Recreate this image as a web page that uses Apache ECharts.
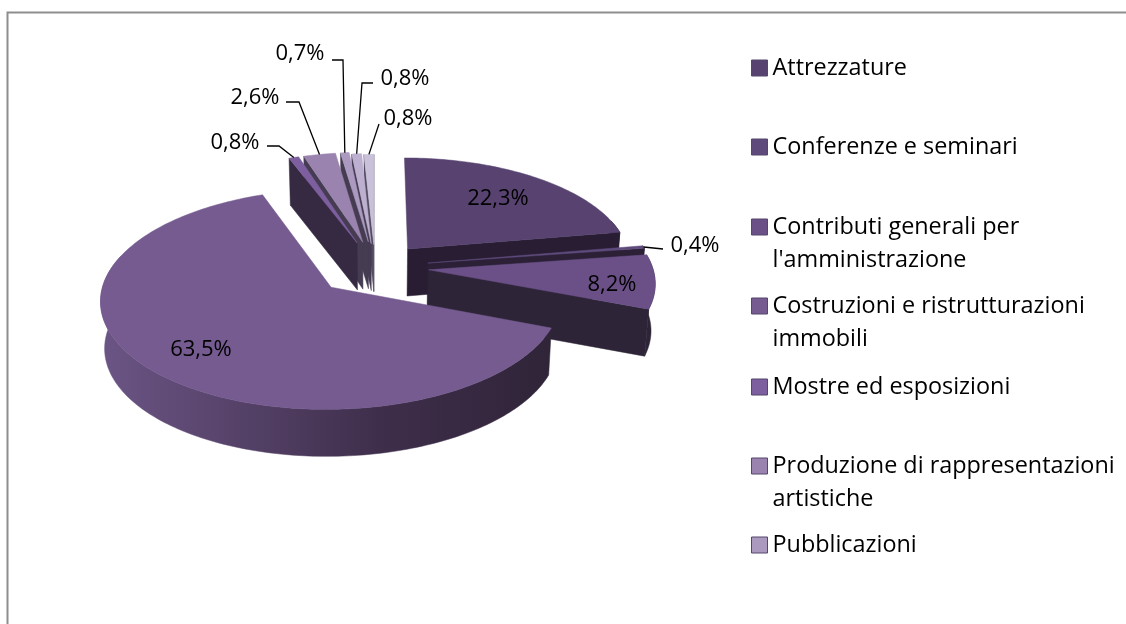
<!DOCTYPE html>
<html>
<head>
<meta charset="utf-8">
<title>Ripartizione spese</title>
<script src="https://cdn.jsdelivr.net/npm/echarts@6/dist/echarts.min.js"></script>
<style>
html, body { margin: 0; padding: 0; background: #fff; }
#main { width: 1126px; height: 624px; }
</style>
</head>
<body>
<div id="main"></div>
<script>
// only the first seven slices have a legend entry in the picture
var categories = [
    'Attrezzature',
    'Conferenze e seminari',
    'Contributi generali per\nl\'amministrazione',
    'Costruzioni e ristrutturazioni\nimmobili',
    'Mostre ed esposizioni',
    'Produzione di rappresentazioni\nartistiche',
    'Pubblicazioni'
];
var values = [22.3, 0.4, 8.2, 63.5, 0.8, 2.6, 0.7, 0.8, 0.8];

var topColors = ['#574270', '#5f4a7c', '#6b5088', '#755b90', '#7d5e9e', '#9a83ae', '#ab99c0', '#bcafcf', '#c9c0d9'];
var sideColors = ['#291d33', '#2b2036', '#2e2437', null, '#352a42', '#453c52', '#453c52', '#453c52', '#524a5e'];
var explode = [0.23, 0.24, 0.24, 0.27, 0.25, 0.25, 0.25, 0.23, 0.22];
var drawOrder = [8, 7, 6, 5, 4, 0, 1, 2, 3];

// label placement, in page pixels: inside labels only have a text point,
// outside ones also a leader elbow
var labelPos = [
    { x: 498, y: 199 },
    { x: 695, y: 246, elbow: [[663, 249]] },
    { x: 612, y: 285 },
    { x: 201, y: 350 },
    { x: 235, y: 143, elbow: [[267, 146], [279, 146]] },
    { x: 255, y: 98, elbow: [[286, 102], [299, 102]] },
    { x: 300, y: 54, elbow: [[332, 60], [343, 60]] },
    { x: 405, y: 79, elbow: [[373, 83], [362, 83]] },
    { x: 408, y: 119, elbow: [[379, 124]] }
];
var legendCenters = [67, 146, 226, 305, 386, 465, 544];

// projection of the pie plane
var cx = 375, cy = 267, ax = 224, by = 104.4, persp = 0.107;
var depth = 47, bottomScale = 0.985;
var FONT = '22px "Open Sans", Lato, sans-serif';

var total = values.reduce(function (a, b) { return a + b; }, 0);
var starts = [];
values.reduce(function (acc, v, i) {
    starts[i] = acc;
    return acc + v / total * Math.PI * 2;
}, 0);

function project(px, py) {
    var s = 1 / (1 - persp * py);
    return [cx + ax * px * s, cy + by * py * s];
}
function lower(p) {
    return [cx + (p[0] - cx) * bottomScale, p[1] + depth];
}

function buildSlice(i) {
    var a0 = starts[i];
    var a1 = a0 + values[i] / total * Math.PI * 2;
    var mid = (a0 + a1) / 2;
    var ox = explode[i] * Math.sin(mid);
    var oy = -explode[i] * Math.cos(mid);
    var apex = project(ox, oy);
    var rimAt = function (a) {
        return project(ox + Math.sin(a), oy - Math.cos(a));
    };
    var steps = Math.max(2, Math.ceil((a1 - a0) / 0.02));
    var rim = [];
    for (var k = 0; k <= steps; k++) {
        rim.push(rimAt(a0 + (a1 - a0) * k / steps));
    }
    var children = [];
    var side = sideColors[i] || new echarts.graphic.LinearGradient(101, 0, 551, 0, [
        { offset: 0, color: '#6b5585' },
        { offset: 0.62, color: '#3f2e4b' },
        { offset: 1, color: '#2f2438' }
    ], true);
    var poly = function (pts, fill) {
        children.push({
            type: 'polygon',
            shape: { points: pts },
            style: { fill: fill, stroke: fill, lineWidth: 0.5 }
        });
    };

    // radial walls that look toward the viewer
    if (Math.sin(a1) > 0) {
        var e = rim[rim.length - 1];
        poly([apex, e, lower(e), lower(apex)], side);
    }
    if (Math.sin(a0) < -0.01) {
        var b = rim[0];
        poly([apex, b, lower(b), lower(apex)], side);
    }
    // outer wall, only the near part of the rim
    var near = [];
    for (var n = 0; n <= steps; n++) {
        var a = a0 + (a1 - a0) * n / steps;
        if (Math.cos(a) < 0.3) near.push(rim[n]);
    }
    if (near.length > 1) {
        poly(near.concat(near.map(lower).reverse()), side);
    }
    // top face
    poly([apex].concat(rim), topColors[i]);

    // label and leader
    var lab = labelPos[i];
    if (lab.elbow) {
        children.push({
            type: 'polyline',
            shape: { points: lab.elbow.concat([rimAt(mid)]) },
            style: { fill: null, stroke: '#000', lineWidth: 1.3 }
        });
    }
    children.push({
        type: 'text',
        style: {
            text: values[i].toFixed(1).replace('.', ',') + '%',
            x: lab.x,
            y: lab.y,
            textAlign: 'center',
            textVerticalAlign: 'middle',
            font: FONT,
            fill: '#000'
        }
    });
    return { type: 'group', children: children };
}

var series = drawOrder.map(function (i) {
    return {
        type: 'custom',
        name: categories[i],
        coordinateSystem: 'none',
        silent: true,
        itemStyle: { color: topColors[i] },
        data: [[values[i]]],
        renderItem: function () { return buildSlice(i); }
    };
});

// one legend per entry: the source spaces them evenly whatever their line count.
// a blank leading line keeps the swatch level with the first line of wrapped names
var legends = categories.map(function (name, i) {
    var twoLines = name.indexOf('\n') >= 0;
    var boxH = twoLines ? 99 : 33;
    return {
        data: [name],
        orient: 'vertical',
        left: 751,
        top: legendCenters[i] - boxH / 2 + 1,
        padding: 0,
        itemWidth: 16,
        itemHeight: 16,
        itemGap: 0,
        icon: 'rect',
        selectedMode: false,
        itemStyle: { borderColor: '#54466c', borderWidth: 1 },
        formatter: function (n) { return twoLines ? '\n' + n : n; },
        textStyle: {
            fontFamily: '"Open Sans", Lato, sans-serif',
            fontSize: 23.4,
            lineHeight: 33,
            color: '#000'
        }
    };
});

var chart = echarts.init(document.getElementById('main'));
chart.setOption({
    backgroundColor: '#fff',
    animation: false,
    legend: legends,
    graphic: [{
        type: 'polyline',
        silent: true,
        shape: { points: [[7.5, 624], [7.5, 12.5], [1126, 12.5]] },
        style: { fill: null, stroke: '#8e8e8e', lineWidth: 2 }
    }],
    series: series
});
</script>
</body>
</html>
